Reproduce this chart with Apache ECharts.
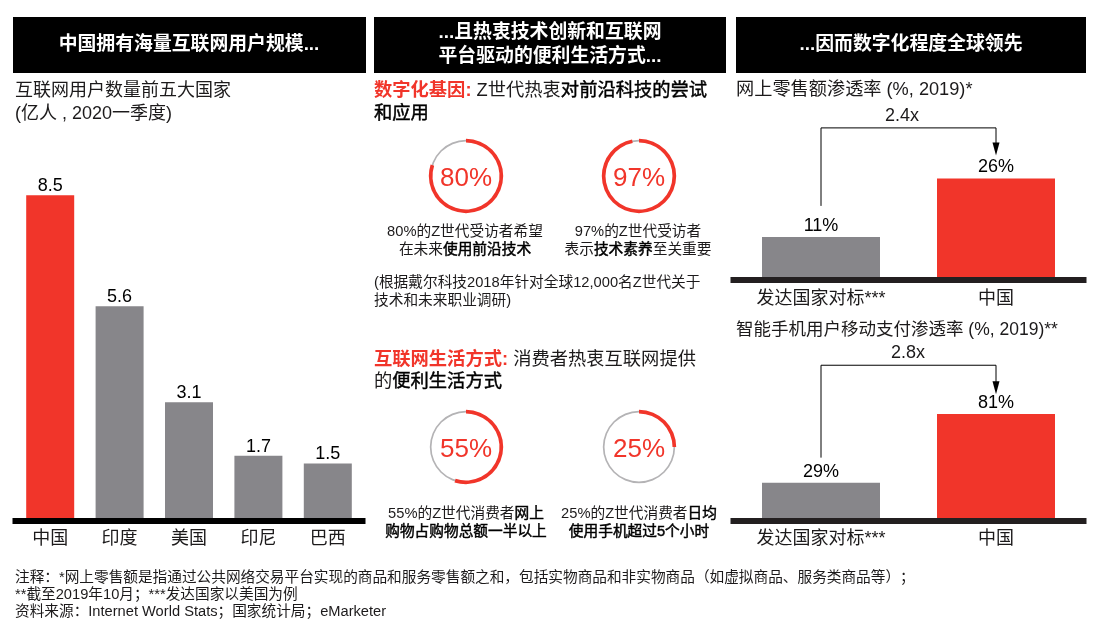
<!DOCTYPE html>
<html><head><meta charset="utf-8">
<style>html,body{margin:0;padding:0;background:#fff}#c{width:1108px;height:626px}</style>
<script src="https://cdn.jsdelivr.net/npm/echarts@6/dist/echarts.min.js"></script>
</head><body><div id="c"></div>
<script>
const userCategories = ['中国','印度','美国','印尼','巴西'];
const userValues = [8.5,5.6,3.1,1.7,1.5];
const compareCategories = ['发达国家对标***','中国'];
const retailValues = [11,26];
const mobilePayValues = [29,81];
const retailBracket = [19,39,33.6];
const mobileBracket = [48,118,101];
const donutValues = [80,97,55,25];
const headers = ['中国拥有海量互联网用户规模...','...且热衷技术创新和互联网','平台驱动的便利生活方式...','...因而数字化程度全球领先'];
const subtitles = ['互联网用户数量前五大国家','(亿人 , 2020一季度)','网上零售额渗透率 (%, 2019)*','智能手机用户移动支付渗透率 (%, 2019)**'];
const multiples = ['2.4x','2.8x'];
const notes = ['注释：*网上零售额是指通过公共网络交易平台实现的商品和服务零售额之和，包括实物商品和非实物商品（如虚拟商品、服务类商品等）；','**截至2019年10月；***发达国家以美国为例','资料来源：Internet World Stats；国家统计局；eMarketer'];

const FONT = '"Liberation Sans","Noto Sans CJK SC",sans-serif';
const RED = '#F1352A', GREY = '#87868A', INK = '#1c1a1b', TRACK = '#b4b3b5';

const chart = echarts.init(document.getElementById('c'), null, {renderer:'canvas'});

function T(x,y,text,size,opt){
  opt = opt||{};
  return {type:'text',x,y,silent:true,style:Object.assign({text,font:(opt.weight||'normal')+' '+size+'px '+FONT,fill:opt.fill||INK,align:opt.align||'left',verticalAlign:'middle'},opt.rich?{rich:opt.rich}:{})};
}
const headSize = 18.3;
function richStyles(size){
  return {
    r:{fill:RED,fontFamily:FONT,fontSize:size,fontWeight:'bold'},
    n:{fill:INK,fontFamily:FONT,fontSize:size},
    b:{fill:'#000',fontFamily:FONT,fontSize:size,stroke:'#000',lineWidth:0.45}
  };
}
const capB = 14.7;
function capRich(){return {n:{fill:INK,fontFamily:FONT,fontSize:capB},b:{fill:'#000',fontFamily:FONT,fontSize:capB,stroke:'#000',lineWidth:0.45}};}

const graphic = [
  {type:'rect',shape:{x:13,y:17,width:353,height:56},style:{fill:'#000'},silent:true},
  {type:'rect',shape:{x:374,y:17,width:352,height:56},style:{fill:'#000'},silent:true},
  {type:'rect',shape:{x:736,y:17,width:350,height:56},style:{fill:'#000'},silent:true},
  T(189,45,headers[0],18.85,{weight:'bold',fill:'#fff',align:'center'}),
  T(550,33,headers[1],18.85,{weight:'bold',fill:'#fff',align:'center'}),
  T(550,57,headers[2],18.85,{weight:'bold',fill:'#fff',align:'center'}),
  T(911,45,headers[3],18.85,{weight:'bold',fill:'#fff',align:'center'}),
  T(15,91,subtitles[0],18),
  T(15,114,subtitles[1],18),
  T(736,90,subtitles[2],18.2),
  T(736,330,subtitles[3],17.5),
  T(902,116,multiples[0],18,{align:'center'}),
  T(908,353,multiples[1],18,{align:'center'}),
  T(374,91,'{r|数字化基因:} {n|Z世代热衷}{b|对前沿科技的尝试}',headSize,{rich:richStyles(headSize)}),
  T(374,114,'{b|和应用}',headSize,{rich:richStyles(headSize)}),
  T(374,360,'{r|互联网生活方式:} {n|消费者热衷互联网提供}',headSize,{rich:richStyles(headSize)}),
  T(374,382,'{n|的}{b|便利生活方式}',headSize,{rich:richStyles(headSize)}),
  T(465,232,'{n|80%的Z世代受访者希望}',capB,{align:'center',rich:capRich()}),
  T(465,250,'{n|在未来}{b|使用前沿技术}',capB,{align:'center',rich:capRich()}),
  T(638,232,'{n|97%的Z世代受访者}',capB,{align:'center',rich:capRich()}),
  T(638,250,'{n|表示}{b|技术素养}{n|至关重要}',capB,{align:'center',rich:capRich()}),
  T(374,283,'(根据戴尔科技2018年针对全球12,000名Z世代关于',capB),
  T(374,301,'技术和未来职业调研)',capB),
  T(466,514,'{n|55%的Z世代消费者}{b|网上}',capB,{align:'center',rich:capRich()}),
  T(466,532,'{b|购物占购物总额一半以上}',capB,{align:'center',rich:capRich()}),
  T(639,514,'{n|25%的Z世代消费者}{b|日均}',capB,{align:'center',rich:capRich()}),
  T(639,532,'{b|使用手机超过5个小时}',capB,{align:'center',rich:capRich()}),
  T(15,578,notes[0],14.67),
  T(15,595,notes[1],14.67),
  T(15,612,notes[2],14.67)
];

function xAxis(idx,cats,color,margin){
  return {type:'category',gridIndex:idx,data:cats,z:5,
    axisLine:{show:true,onZero:false,lineStyle:{color,width:6,cap:'square'}},
    axisTick:{show:false},
    axisLabel:{color:INK,fontFamily:FONT,fontSize:18,margin,interval:0}};
}
function yAxis(idx,max){
  return {type:'value',gridIndex:idx,min:0,max,show:false,splitLine:{show:false}};
}
function bars(idx,vals,hi,width,fmt,dist){
  return {type:'bar',xAxisIndex:idx,yAxisIndex:idx,barWidth:width,z:1,silent:true,
    data:vals.map((v,i)=>({value:v,itemStyle:{color:i===hi?RED:GREY}})),
    label:{show:true,position:'top',distance:dist,color:'#000',fontFamily:FONT,fontSize:18,formatter:fmt}};
}
function bracket(idx,b){
  return {type:'line',xAxisIndex:idx,yAxisIndex:idx,z:3,silent:true,
    showSymbol:true,symbol:'none',
    lineStyle:{color:'#000',width:1,cap:'butt',join:'miter'},
    data:[
      {value:[0,b[0]],symbol:'none'},
      {value:[0,b[1]],symbol:'none'},
      {value:[1,b[1]],symbol:'none'},
      {value:[1,b[2]],symbol:'triangle',symbolRotate:180,symbolSize:[7,13],itemStyle:{color:'#000'}}
    ]};
}
function donut(cx,cy,v){
  const common = {type:'pie',center:[cx,cy],startAngle:90,silent:true,animation:false,labelLine:{show:false},emphasis:{disabled:true}};
  return [
    Object.assign({},common,{radius:[34.5,36.2],z:2,label:{show:false},data:[{value:100,itemStyle:{color:TRACK}}]}),
    Object.assign({},common,{radius:[33.5,37.2],z:3,
      label:{show:false},
      data:[
        {value:v,itemStyle:{color:RED},label:{show:true,position:'center',offset:[0,3],formatter:'{c}%',color:RED,fontFamily:FONT,fontSize:26,fontWeight:'normal'}},
        {value:100-v,itemStyle:{color:'rgba(0,0,0,0)'},label:{show:false}}
      ]})
  ];
}
const pct = p => p.value+'%';
const option = {
  backgroundColor:'#fff',animation:false,
  grid:[
    {left:15.5,width:347,top:176,height:345},
    {left:733.5,width:350,top:104.5,height:175.5},
    {left:733.5,width:350,top:349.4,height:171.6}
  ],
  xAxis:[xAxis(0,userCategories,'#000',9),xAxis(1,compareCategories,'#231F20',10),xAxis(2,compareCategories,'#231F20',9)],
  yAxis:[yAxis(0,9),yAxis(1,45),yAxis(2,130)],
  graphic,
  series:[
    bars(0,userValues,0,48,p=>p.value.toFixed(1),0),
    bars(1,retailValues,1,118,pct,2.5),
    bars(2,mobilePayValues,1,118,pct,2),
    bracket(1,retailBracket),
    bracket(2,mobileBracket),
    ...donut(466,176,donutValues[0]),
    ...donut(639,176,donutValues[1]),
    ...donut(466,447,donutValues[2]),
    ...donut(639,447,donutValues[3])
  ]
};
chart.setOption(option);
</script></body></html>
